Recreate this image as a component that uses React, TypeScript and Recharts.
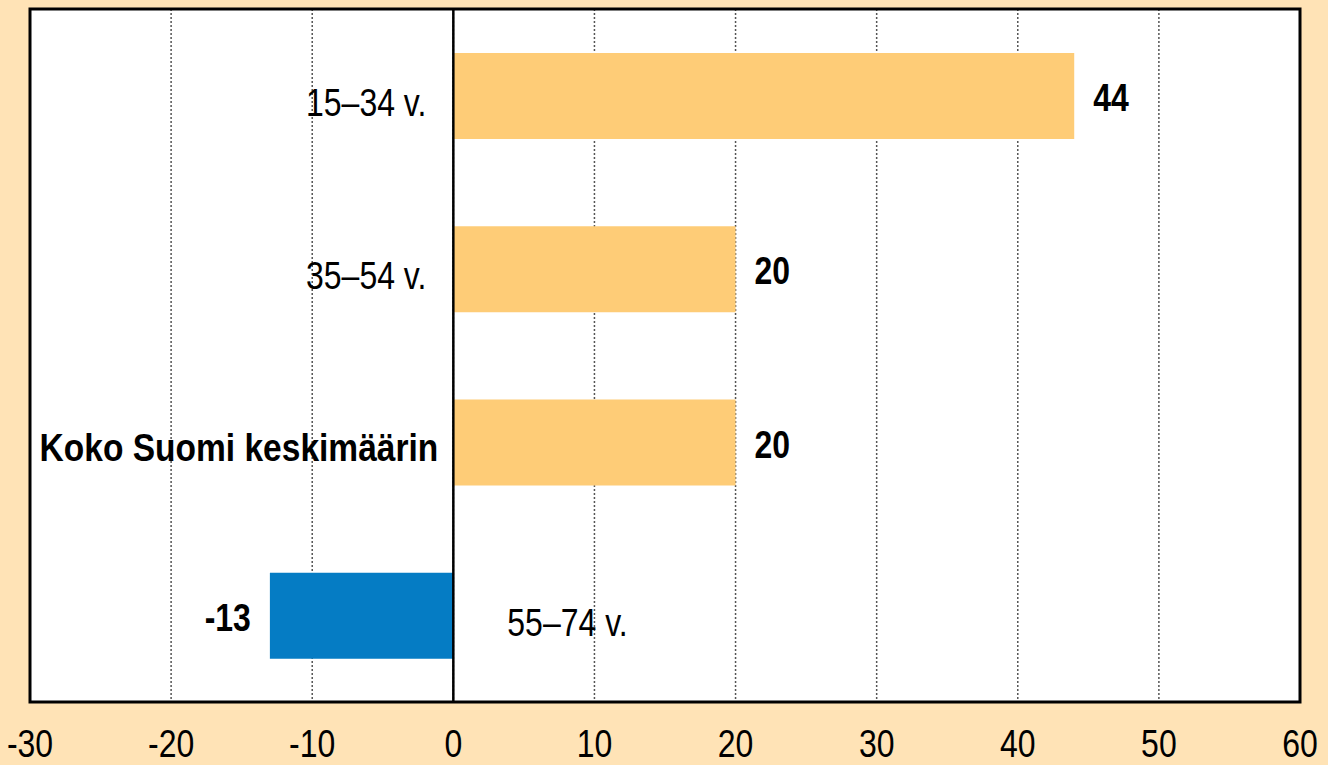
import { BarChart, Bar, XAxis, YAxis, CartesianGrid, ReferenceLine, ReferenceArea, LabelList, Cell } from "recharts";

const categories = ["15–34 v.", "35–54 v.", "Koko Suomi keskimäärin", "55–74 v."];
const values = [44, 20, 20, -13];
const highlighted = ["Koko Suomi keskimäärin"];
const xTicks = [-30, -20, -10, 0, 10, 20, 30, 40, 50, 60];

const data = categories.map((name, i) => ({ name, value: values[i] }));

const FONT = "'Liberation Sans', Arial, sans-serif";
const ORANGE = "#FECC77";
const BLUE = "#057CC4";

// condensed look: squeeze Liberation Sans horizontally around the anchor point
const Narrow = ({ x, y, anchor, bold, sx = 0.82, children }: any) => (
  <text
    transform={`translate(${x},${y}) scale(${sx},1)`}
    textAnchor={anchor}
    fontSize={39}
    fontWeight={bold ? 700 : 400}
    fontFamily={FONT}
    fill="#000"
  >
    {children}
  </text>
);

const Tick = ({ x, y, payload }: any) => (
  <Narrow x={x} y={y + 55} anchor="middle">{payload.value}</Narrow>
);

const NameLabel = (props: any) => {
  const { x, y, width, height, index } = props;
  const left = Math.min(x, x + width);
  const right = Math.max(x, x + width);
  const cy = y + height / 2;
  const name = categories[index];
  const bold = highlighted.includes(name);
  if (values[index] >= 0) {
    return bold ? (
      <Narrow x={left - 15} y={cy + 18} anchor="end" bold sx={0.86}>{name}</Narrow>
    ) : (
      <Narrow x={left - 27} y={cy + 20} anchor="end">{name}</Narrow>
    );
  }
  return <Narrow x={right + 54} y={cy + 20} anchor="start">{name}</Narrow>;
};

const ValueLabel = (props: any) => {
  const { x, y, width, height, index } = props;
  const left = Math.min(x, x + width);
  const right = Math.max(x, x + width);
  const cy = y + height / 2;
  const v = values[index];
  return (
    <Narrow x={v >= 0 ? right + 19 : left - 19} y={cy + 15} anchor={v >= 0 ? "start" : "end"} bold>
      {v}
    </Narrow>
  );
};

export default function App() {
  return (
    <div style={{ position: "fixed", left: 0, top: 0, width: 1328, height: 765, background: "#FFE3B6" }}>
      <BarChart
        width={1328}
        height={765}
        data={data}
        layout="vertical"
        margin={{ top: 9, right: 28, left: 30, bottom: 0 }}
      >
        <CartesianGrid horizontal={false} fill="#fff" stroke="#555" strokeDasharray="2 2" strokeWidth={1.5} />
        <XAxis
          type="number"
          domain={[-30, 60]}
          ticks={xTicks}
          height={63}
          axisLine={false}
          tickLine={false}
          tickSize={0}
          tickMargin={0}
          tick={<Tick />}
          interval={0}
        />
        <YAxis type="category" dataKey="name" hide width={0} />
        <Bar dataKey="value" barSize={86} isAnimationActive={false}>
          {data.map((d) => (
            <Cell key={d.name} fill={d.value >= 0 ? ORANGE : BLUE} />
          ))}
          <LabelList dataKey="name" content={<NameLabel />} />
          <LabelList dataKey="value" content={<ValueLabel />} />
        </Bar>
        <ReferenceLine x={0} stroke="#000" strokeWidth={2.5} />
        <ReferenceArea x1={-30} x2={60} fill="none" stroke="#000" strokeWidth={3} />
      </BarChart>
    </div>
  );
}
